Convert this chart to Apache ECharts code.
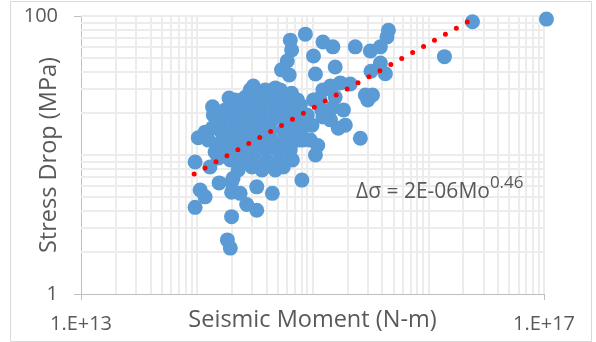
<!DOCTYPE html>
<html><head><meta charset="utf-8">
<script src="https://cdn.jsdelivr.net/npm/echarts@6/dist/echarts.min.js"></script>
<style>html,body{margin:0;padding:0;background:#fff}#c{width:596px;height:342px}</style>
</head><body><div id="c"></div>
<script>
// Seismic moment (N-m) and stress drop (MPa)
const moment = [
 1.05e17,2.41e16,1.38e16,4.53e15,4.4e15,3.86e15,3.16e15,2.34e15,3.86e15,4.26e15,3.2e15,
 1.57e15,1.02e15,1.06e15,1.23e15,1.5e15,8.67e14,6.43e14,6.6e14,6.05e14,5.4e14,6.3e14,
 3.08e14,4.77e14,6.6e14,1.9e14,2.62e14,3.53e14,1.37e14,1.39e14,2.28e14,2.06e14,1.18e14,1.03e14,1.5e14,1.44e14,
 9.68e13,1.3e14,1.07e14,1.18e14,9.68e13,1.56e14,2.0e14,2.0e14,2.37e14,2.0e14,1.84e14,1.95e14,
 2.7e14,3.3e14,3.3e14,4.5e14,5.6e14,8.1e14,1.11e15,1.06e15,9.57e14,8.2e14,2.59e15,4.1e14,3.0e14,2.06e14,
 7.5e14,7.4e14,1.92e15,1.85e15,1.5e15,1.23e15,1.43e15,1.74e15,2.12e15,1.23e15,1.02e15,1.15e15,2.86e15,3.3e15,3.0e15,8.2e14,7.1e14,
 2.9e14,3.91e14,5.26e14,
 2.15e14,2.79e14,3.53e14,4.49e14,5.82e14,7.4e14,
 1.76e14,2.26e14,2.9e14,3.66e14,4.77e14,6.05e14,
 1.66e14,2.15e14,2.73e14,3.53e14,4.49e14,5.82e14,7.25e14,
 1.59e14,2.03e14,2.62e14,3.33e14,4.31e14,5.6e14,7.1e14,
 1.66e14,2.15e14,2.73e14,3.53e14,4.49e14,5.82e14,7.4e14,
 1.86e14,2.37e14,3.0e14,3.91e14,4.96e14,6.43e14,
 1.95e14,2.47e14,3.2e14,5.26e14,6.7e14,
 2.28e14,3.66e14,4.77e14,
 7.84e14,9.02e14,9.9e14,1.2e15,1.43e15,1.67e15,8.2e14,1.57e15,
 1.26e14,1.37e14,1.53e14
];
const stress = [
 95,91,51,79,70.6,60,56,60,45.9,38.4,40,
 43,51.5,38.3,65,60,74,67,57,47.5,41,37.6,
 31.3,30.4,27.8,25.7,26,28,22.2,19.4,21.5,18.7,14.6,13.3,11.8,10.5,
 8.9,8.2,5.6,5.0,4.2,6.3,6.4,5.4,5.3,3.6,2.45,2.14,
 4.4,4.0,5.9,5.3,8.2,6.6,11.7,10.0,12.8,12.8,13.2,9.1,8.2,6.8,
 16.4,21.1,16.4,21.1,22,18.8,31.3,33,32.4,29.4,24.9,25.6,27,27,24.9,18.5,15.9,
 29.4,29.4,29.4,
 24.9,24.9,24.9,24.9,24.9,24.9,
 21.1,21.1,21.1,21.1,21.1,21.1,
 17.9,17.9,17.9,17.9,17.9,17.9,17.9,
 15.1,15.1,15.1,15.1,15.1,15.1,15.1,
 12.8,12.8,12.8,12.8,12.8,12.8,12.8,
 10.9,10.9,10.9,10.9,10.9,10.9,
 9.2,9.2,9.2,9.2,9.2,
 7.8,7.8,7.8,
 22.9,19.4,16.4,21.1,17.9,15.6,15.6,26.1,
 12.8,15.7,9.5
];
// power trend line end points
const trendMoment = [9.5e13, 2.7e16];
const trendStress = [7.3, 100];
const xTickLabels = ['1.E+13', '1.E+17'];
const yTickValues = [1, 100];
const yTickLabels = ['1', '100'];
const xTitle = 'Seismic Moment (N-m)';
const yTitle = 'Stress Drop (MPa)';
const equationMain = 'Δσ = 2E-06Mo';
const equationExp = '0.46';

const FONT = '"Open Sans", "DejaVu Sans", sans-serif';
const TXT = '#595959';
const AX = '#bfbfbf';
const GRID = '#ececec';

// log gridlines (major + minor)
const vLines = [], hLines = [];
for (let e = 13; e <= 16; e++) for (let k = 1; k <= 9; k++) { if (!(e === 13 && k === 1)) vLines.push(k * Math.pow(10, e)); }
vLines.push(1e17);
for (let e = 0; e <= 1; e++) for (let k = 1; k <= 9; k++) { if (!(e === 0 && k === 1)) hLines.push(k * Math.pow(10, e)); }
hLines.push(100);

const points = moment.map((m, i) => [m, stress[i]]);
const trend = trendMoment.map((m, i) => [m, trendStress[i]]);

const baseGraphics = [
  {id: 'border', type: 'rect', silent: true, z: -10, shape: {x: 10.5, y: 1.5, width: 581, height: 340}, style: {fill: 'none', stroke: '#d9d9d9', lineWidth: 1}},
  {id: 'eq', type: 'text', silent: true, z: 100, left: 356, top: 175,
   style: {text: '{a|' + equationMain + '}{s|' + equationExp + '}', fontFamily: FONT,
     rich: {
       a: {fontSize: 21, fill: TXT, fontFamily: FONT, lineHeight: 28, verticalAlign: 'bottom'},
       s: {fontSize: 17, fill: TXT, fontFamily: FONT, lineHeight: 28, verticalAlign: 'top'}
     }}}
];

const chart = echarts.init(document.getElementById('c'), null, {renderer: 'canvas'});
chart.setOption({
  animation: false,
  backgroundColor: '#ffffff',
  textStyle: {fontFamily: FONT},
  grid: {left: 81, right: 52, top: 16, bottom: 48, containLabel: false, outerBoundsMode: 'none'},
  xAxis: [
    {type: 'log', logBase: 10, min: 1e13, max: 1e17, show: false},
    {type: 'value', min: 0, max: 4, interval: 4, position: 'bottom',
     axisLine: {show: true, lineStyle: {color: AX, width: 1}},
     axisTick: {show: true, length: 6, lineStyle: {color: AX}},
     axisLabel: {formatter: v => xTickLabels[Math.round(v / 4)], color: TXT, fontSize: 20, margin: 20, fontFamily: FONT, showMinLabel: true, showMaxLabel: true, hideOverlap: false},
     splitLine: {show: false},
     name: xTitle, nameLocation: 'middle', nameGap: 14, nameMoveOverlap: false,
     nameTextStyle: {color: TXT, fontSize: 23.5, fontFamily: FONT}}
  ],
  yAxis: [
    {type: 'log', logBase: 10, min: 1, max: 100, show: false},
    {type: 'value', min: 0, max: 2, interval: 2, position: 'left',
     axisLine: {show: true, lineStyle: {color: AX, width: 1}},
     axisTick: {show: true, length: 7, lineStyle: {color: AX}},
     axisLabel: {show: false},
     splitLine: {show: false},
     name: yTitle, nameLocation: 'middle', nameGap: 20, nameRotate: 90, nameMoveOverlap: false,
     nameTextStyle: {color: TXT, fontSize: 23.5, fontFamily: FONT}}
  ],
  graphic: baseGraphics,
  series: [
    {type: 'scatter', data: [], xAxisIndex: 0, yAxisIndex: 0, silent: true, z: 1,
     markLine: {silent: true, z: 1, symbol: ['none', 'none'], label: {show: false}, animation: false,
       lineStyle: {color: GRID, width: 2, type: 'solid'},
       data: vLines.map(v => ({xAxis: v})).concat(hLines.map(v => ({yAxis: v})))}},
    {type: 'scatter', data: points, xAxisIndex: 0, yAxisIndex: 0, symbolSize: 15, clip: false, z: 3,
     itemStyle: {color: '#5b9bd5', opacity: 1}},
    {type: 'line', data: trend, xAxisIndex: 0, yAxisIndex: 0, symbol: 'none', clip: true, z: 4,
     lineStyle: {color: '#ff0000', width: 5, type: [0, 12.5], cap: 'round'}}
  ]
});

// y tick labels placed through the log axis scale
const yLabelGraphics = yTickValues.map((v, i) => {
  const p = chart.convertToPixel({xAxisIndex: 0, yAxisIndex: 0}, [1e13, v]);
  return {id: 'ylab' + i, type: 'text', silent: true, z: 50, x: p[0] - 23, y: p[1],
    style: {text: yTickLabels[i], fill: TXT, fontSize: 20, fontFamily: FONT, align: 'right', verticalAlign: 'middle'}};
});
chart.setOption({graphic: baseGraphics.concat(yLabelGraphics)});
</script>
</body></html>
